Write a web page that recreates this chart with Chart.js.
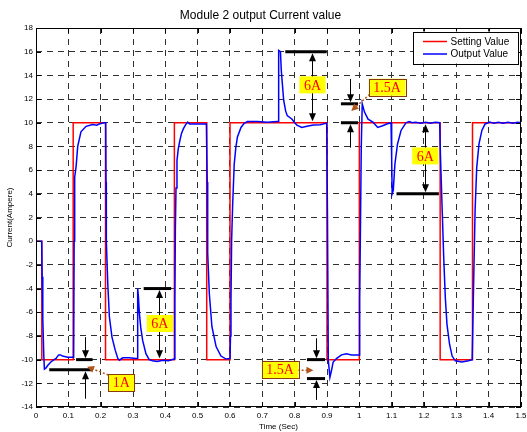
<!DOCTYPE html>
<html>
<head>
<meta charset="utf-8">
<title>Module 2 output Current value</title>
<script src="https://cdn.jsdelivr.net/npm/chart.js@4.4.1/dist/chart.umd.min.js"></script>
<style>
	body { margin: 0; background: #fff; }
	canvas { display: block; }
</style>
</head>
<body>
<canvas id="current-chart" width="527" height="432"></canvas>
<script>
// Setting value (square reference)
const setTime = [0, 0.018, 0.018, 0.115, 0.115, 0.215, 0.215, 0.428, 0.428, 0.528, 0.528, 0.6, 0.6, 0.9, 0.9, 1.0, 1.0, 1.25, 1.25, 1.35, 1.35, 1.5, 1.5];
const setValue = [0, 0, -10, -10, 10, 10, -10, -10, 10, 10, -10, -10, 10, 10, -10, -10, 10, 10, -10, -10, 10, 10, 0];

// Output value (measured current)
const outTime = [
	0, 0.0175, 0.019, 0.021, 0.024, 0.026, 0.031, 0.036, 0.046, 0.056, 0.062, 0.070, 0.076, 0.082, 0.098, 0.1165,
	0.118, 0.1196, 0.124, 0.129, 0.139, 0.155, 0.175, 0.188, 0.196, 0.204, 0.212, 0.2155,
	0.2165, 0.2175, 0.222, 0.227, 0.235, 0.245, 0.253, 0.258, 0.268, 0.289, 0.309, 0.3125,
	0.3145, 0.3165, 0.3195, 0.324, 0.33, 0.34, 0.35, 0.36, 0.375, 0.392, 0.41, 0.427,
	0.4295, 0.431, 0.433, 0.436, 0.44, 0.445, 0.45, 0.456, 0.462, 0.469, 0.475, 0.485, 0.505, 0.527,
	0.5295, 0.531, 0.536, 0.544, 0.557, 0.572, 0.588, 0.6,
	0.6015, 0.603, 0.605, 0.608, 0.613, 0.618, 0.623, 0.634, 0.644, 0.654, 0.685, 0.715, 0.746, 0.7495,
	0.7505, 0.756, 0.7585, 0.761, 0.766, 0.772, 0.777, 0.792, 0.8, 0.807, 0.822, 0.838, 0.858, 0.879, 0.899,
	0.9015, 0.904, 0.909, 0.914, 0.919, 0.93, 0.945, 0.96, 0.976, 0.999,
	1.001, 1.003, 1.006, 1.009, 1.016, 1.027, 1.042, 1.057, 1.072, 1.085, 1.098,
	1.1, 1.1015, 1.105, 1.11, 1.118, 1.129, 1.144, 1.154, 1.164, 1.174, 1.19, 1.205, 1.22, 1.235, 1.2485,
	1.251, 1.256, 1.261, 1.266, 1.271, 1.279, 1.287, 1.297, 1.317, 1.338, 1.349,
	1.353, 1.358, 1.363, 1.37, 1.379, 1.389, 1.404, 1.415, 1.43, 1.445, 1.46, 1.475, 1.49, 1.5
];
const outValue = [
	0, 0, -3, -6.5, -9.6, -10.8, -10.7, -10.5, -10.2, -10.0, -9.9, -9.6, -9.6, -9.7, -9.8, -9.8,
	0, 5.4, 6.3, 8.0, 9.24, 9.7, 9.86, 9.8, 9.9, 9.95, 10.0, 10.0,
	5, 0, -3.6, -6.4, -8.1, -9.2, -9.9, -10.05, -9.85, -9.85, -9.9, -9.9,
	-4.0, -4.6, -6.0, -7.3, -8.4, -9.5, -10.0, -10.1, -10.15, -10.05, -10.1, -9.95,
	-5, 1, 4.5, 6.8, 7.8, 8.5, 9.1, 9.5, 9.8, 10.05, 9.9, 9.9, 9.9, 9.9,
	5, -1.0, -4.4, -7.2, -8.9, -9.7, -9.95, -9.9,
	-8, -5, 0, 2.9, 6.5, 7.9, 8.8, 9.6, 9.95, 10.1, 10.1, 10.05, 10.1, 10.1,
	16.1, 16.0, 14.5, 13.6, 11.9, 11.0, 10.6, 10.3, 10.0, 9.8, 9.6, 9.7, 9.8, 9.83, 9.97,
	2, -10.05, -11.5, -10.9, -10.2, -9.9, -9.6, -9.5, -9.6, -9.6,
	-5, 0, 8, 11.6, 10.9, 10.3, 10.05, 9.6, 9.75, 9.9, 10.0,
	7, 4.0, 4.3, 6.5, 8.2, 9.35, 10.0, 10.1, 10.0, 10.05, 9.95, 10.05, 9.95, 10.05, 10.0,
	7.1, 2.85, -1.4, -4.8, -7.0, -8.7, -9.7, -10.1, -10.2, -10.1, -10.0,
	-4.2, 2.6, 6.2, 8.2, 9.35, 9.9, 10.05, 9.95, 10.05, 9.95, 10.05, 9.95, 10.05, 10.0
];

// Axis ticks
const xTicks = [0, 0.1, 0.2, 0.3, 0.4, 0.5, 0.6, 0.7, 0.8, 0.9, 1, 1.1, 1.2, 1.3, 1.4, 1.5];
const xTickLabels = ["0", "0.1", "0.2", "0.3", "0.4", "0.5", "0.6", "0.7", "0.8", "0.9", "1", "1.1", "1.2", "1.3", "1.4", "1.5"];
const yTicks = [-14, -12, -10, -8, -6, -4, -2, 0, 2, 4, 6, 8, 10, 12, 14, 16, 18];
const yTickLabels = ["-14", "-12", "-10", "-8", "-6", "-4", "-2", "0", "2", "4", "6", "8", "10", "12", "14", "16", "18"];

// Annotation marks, in data units: [t start, t end, value]
const markBars = [
	[0.124, 0.175, -10], [0.041, 0.175, -10.85],
	[0.333, 0.418, -4],
	[0.771, 0.899, 16],
	[0.943, 0.996, 11.6], [0.943, 0.996, 10],
	[0.838, 0.894, -10], [0.838, 0.894, -11.6],
	[1.115, 1.246, 4]
];
// [t, from value, to value (arrow head)]
const markArrows = [
	[0.1515, -8.1, -10], [0.1515, -13.3, -10.85],
	[0.381, -7, -4], [0.381, -7, -10],
	[0.855, 13, 16], [0.855, 13, 10],
	[0.97, 13.7, 11.6], [0.97, 7.9, 10],
	[0.865, -8.2, -10], [0.865, -13.4, -11.6],
	[1.202, 7, 10], [1.202, 7, 4]
];
// [text, t centre, value centre, framed]
const markLabels = [
	["1A", 0.264, -11.95, true],
	["6A", 0.383, -6.95, false],
	["6A", 0.855, 13.2, false],
	["1.5A", 1.086, 13.0, true],
	["1.5A", 0.755, -10.83, true],
	["6A", 1.204, 7.2, false]
];
// dashed pointers [t0, v0, t1, v1]
const markPointers = [
	[0.224, -11.3, 0.158, -10.6],
	[1.032, 12.4, 0.975, 11.0],
	[0.809, -10.9, 0.858, -10.9]
];

const toPoints = (xs, ys) => xs.map((x, i) => ({ x: x, y: ys[i] }));

function arrowHead(ctx, x, y, angle, len, half) {
	ctx.beginPath();
	ctx.moveTo(x, y);
	ctx.lineTo(x - len * Math.cos(angle) + half * Math.sin(angle), y - len * Math.sin(angle) - half * Math.cos(angle));
	ctx.lineTo(x - len * Math.cos(angle) - half * Math.sin(angle), y - len * Math.sin(angle) + half * Math.cos(angle));
	ctx.closePath();
	ctx.fill();
}

// MATLAB style frame, inward ticks, annotations and legend
const figurePlugin = {
	id: "figureExtras",
	afterDraw(chart) {
		const { ctx, chartArea: a } = chart;
		const xs = chart.scales.x;
		const ys = chart.scales.y;
		ctx.save();
		ctx.setLineDash([]);
		ctx.strokeStyle = "#000";
		ctx.lineWidth = 1;

		// inward ticks
		ctx.beginPath();
		xTicks.forEach((v) => {
			const px = Math.round(xs.getPixelForValue(v)) + 0.5;
			ctx.moveTo(px, a.top); ctx.lineTo(px, a.top + 5);
			ctx.moveTo(px, a.bottom); ctx.lineTo(px, a.bottom - 5);
		});
		yTicks.forEach((v) => {
			const py = Math.round(ys.getPixelForValue(v)) + 0.5;
			ctx.moveTo(a.left, py); ctx.lineTo(a.left + 5, py);
			ctx.moveTo(a.right, py); ctx.lineTo(a.right - 5, py);
		});
		ctx.stroke();

		// frame
		ctx.strokeRect(Math.round(a.left) + 0.5, Math.round(a.top) + 0.5, Math.round(a.right - a.left) - 1, Math.round(a.bottom - a.top) - 1);

		// bars
		ctx.lineWidth = 3;
		markBars.forEach(([t0, t1, v]) => {
			const py = ys.getPixelForValue(v);
			ctx.beginPath();
			ctx.moveTo(xs.getPixelForValue(t0), py);
			ctx.lineTo(xs.getPixelForValue(t1), py);
			ctx.stroke();
		});

		// arrows
		ctx.lineWidth = 1;
		ctx.fillStyle = "#000";
		markArrows.forEach(([t, v0, v1]) => {
			const px = Math.round(xs.getPixelForValue(t)) + 0.5;
			const p0 = ys.getPixelForValue(v0);
			let p1 = ys.getPixelForValue(v1);
			const dir = p1 > p0 ? 1 : -1;
			p1 -= dir * 1.5;
			ctx.beginPath();
			ctx.moveTo(px, p0);
			ctx.lineTo(px, p1 - dir * 4);
			ctx.stroke();
			arrowHead(ctx, px, p1, dir > 0 ? Math.PI / 2 : -Math.PI / 2, 8, 3.5);
		});

		// dashed pointers
		ctx.strokeStyle = "#b0541a";
		ctx.fillStyle = "#b0541a";
		ctx.lineWidth = 1.5;
		markPointers.forEach(([t0, v0, t1, v1]) => {
			const x0 = xs.getPixelForValue(t0), y0 = ys.getPixelForValue(v0);
			const x1 = xs.getPixelForValue(t1), y1 = ys.getPixelForValue(v1);
			const ang = Math.atan2(y1 - y0, x1 - x0);
			ctx.setLineDash([2, 2]);
			ctx.beginPath();
			ctx.moveTo(x0, y0);
			ctx.lineTo(x1 - 5 * Math.cos(ang), y1 - 5 * Math.sin(ang));
			ctx.stroke();
			ctx.setLineDash([]);
			arrowHead(ctx, x1, y1, ang, 7, 3.5);
		});

		// yellow labels
		ctx.font = '14px "Liberation Serif", "Times New Roman", serif';
		ctx.textAlign = "center";
		ctx.textBaseline = "middle";
		markLabels.forEach(([text, t, v, framed]) => {
			const cx = xs.getPixelForValue(t), cy = ys.getPixelForValue(v);
			const w = ctx.measureText(text).width + 9;
			const h = 17;
			ctx.fillStyle = "#ffff00";
			ctx.fillRect(cx - w / 2, cy - h / 2, w, h);
			if (framed) {
				ctx.strokeStyle = "#8b3a0e";
				ctx.lineWidth = 1;
				ctx.strokeRect(Math.round(cx - w / 2) + 0.5, Math.round(cy - h / 2) + 0.5, Math.round(w), h);
			}
			ctx.fillStyle = "#ff0000";
			ctx.fillText(text, cx, cy + 1);
		});

		// legend
		const lx = a.right - 108, ly = a.top + 3.5, lw = 105, lh = 32;
		ctx.fillStyle = "#fff";
		ctx.fillRect(lx, ly, lw, lh);
		ctx.strokeStyle = "#000";
		ctx.lineWidth = 1;
		ctx.strokeRect(Math.round(lx) + 0.5, Math.round(ly) + 0.5, lw, lh);
		ctx.font = '10px "Liberation Sans", Arial, sans-serif';
		ctx.textAlign = "left";
		chart.data.datasets.forEach((ds, i) => {
			const rowY = ly + 10 + i * 12.5;
			ctx.strokeStyle = ds.borderColor;
			ctx.lineWidth = 1.5;
			ctx.beginPath();
			ctx.moveTo(lx + 10, rowY);
			ctx.lineTo(lx + 34, rowY);
			ctx.stroke();
			ctx.fillStyle = "#000";
			ctx.fillText(ds.label, lx + 37.5, rowY + 0.5);
		});
		ctx.restore();
	}
};

const axisFont = { family: '"Liberation Sans", Arial, sans-serif', size: 8 };

const ctx = document.getElementById("current-chart").getContext("2d");
new Chart(ctx, {
	type: "line",
	data: {
		datasets: [
			{
				label: "Setting Value",
				data: toPoints(setTime, setValue),
				borderColor: "#ff0000",
				borderWidth: 1.5,
				pointRadius: 0,
				tension: 0,
				order: 2
			},
			{
				label: "Output Value",
				data: toPoints(outTime, outValue),
				borderColor: "#0000ff",
				borderWidth: 1.5,
				pointRadius: 0,
				tension: 0,
				order: 1
			}
		]
	},
	options: {
		responsive: false,
		animation: false,
		layout: { padding: { top: 0, left: 0, right: 6, bottom: 0 } },
		plugins: {
			legend: { display: false },
			tooltip: { enabled: false },
			title: {
				display: true,
				text: "Module 2 output Current value",
				color: "#000",
				font: { family: '"Liberation Sans", Arial, sans-serif', size: 12, weight: "normal" },
				padding: { top: 8, bottom: 5.6 }
			}
		},
		scales: {
			x: {
				type: "linear",
				min: 0,
				max: 1.5,
				afterBuildTicks: (scale) => { scale.ticks = xTicks.map((v) => ({ value: v })); },
				afterFit: (scale) => { scale.height = 25; scale.paddingLeft = 0; scale.paddingRight = 0; },
				ticks: {
					autoSkip: false,
					maxRotation: 0,
					padding: 4,
					color: "#000",
					font: axisFont,
					callback: (value) => xTickLabels[xTicks.indexOf(value)]
				},
				grid: { color: "#303030", lineWidth: 1, drawTicks: false },
				border: { display: false, dash: [6, 5] },
				title: { display: true, text: "Time (Sec)", color: "#000", font: axisFont, padding: { top: 0, bottom: 0 } }
			},
			y: {
				type: "linear",
				min: -14,
				max: 18,
				afterBuildTicks: (scale) => { scale.ticks = yTicks.map((v) => ({ value: v })); },
				afterFit: (scale) => { scale.width = 36; scale.paddingTop = 0; scale.paddingBottom = 0; },
				ticks: {
					autoSkip: false,
					padding: 3,
					color: "#000",
					font: axisFont,
					callback: (value) => yTickLabels[yTicks.indexOf(value)]
				},
				grid: { color: "#303030", lineWidth: 1, drawTicks: false },
				border: { display: false, dash: [6, 5] },
				title: { display: true, text: "Current(Ampere)", color: "#000", font: axisFont, padding: { top: 5, bottom: 0 } }
			}
		}
	},
	plugins: [figurePlugin]
});
</script>
</body>
</html>
